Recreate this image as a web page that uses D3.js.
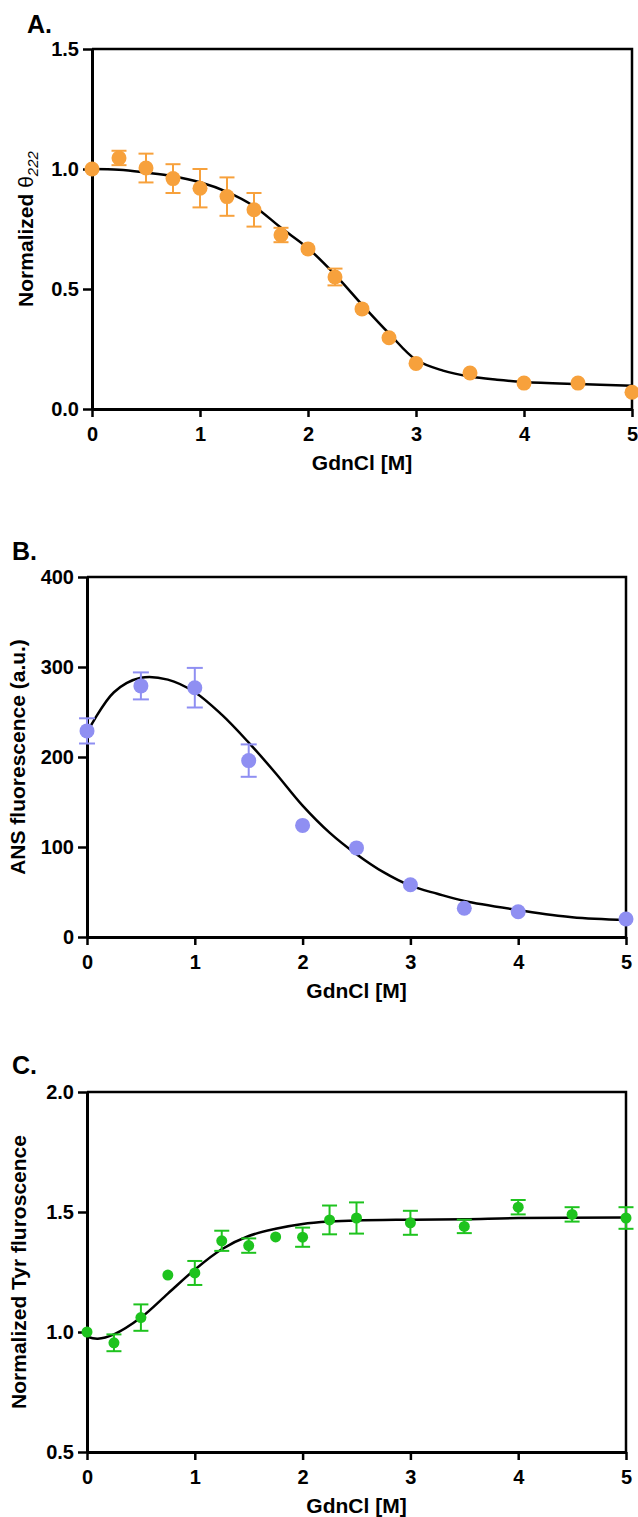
<!DOCTYPE html>
<html>
<head>
<meta charset="utf-8">
<script src="https://cdn.jsdelivr.net/npm/d3@7"></script>
<style>
  body { margin: 0; background: #fff; }
  svg { display: block; font-family: "Liberation Sans", Arial, sans-serif; font-weight: bold; }
</style>
</head>
<body>
<div id="chart"></div>
<script>
const gdnclTicks = [0, 1, 2, 3, 4, 5];

// A. CD signal at 222 nm
const cdX = [0, 0.25, 0.5, 0.75, 1, 1.25, 1.5, 1.75, 2, 2.25, 2.5, 2.75, 3, 3.5, 4, 4.5, 5];
const cdY = [1.0, 1.046, 1.004, 0.96, 0.92, 0.885, 0.83, 0.725, 0.667, 0.55, 0.417, 0.297, 0.19, 0.15, 0.108, 0.108, 0.07];
const cdErr = [0, 0.03, 0.06, 0.06, 0.08, 0.08, 0.07, 0.03, 0, 0.035, 0, 0, 0, 0, 0, 0, 0];
const cdFitX = [0, 0.25, 0.5, 0.75, 1, 1.25, 1.5, 1.75, 2, 2.25, 2.5, 2.75, 3, 3.25, 3.5, 3.75, 4, 4.5, 5];
const cdFitY = [1.0, 0.997, 0.985, 0.97, 0.945, 0.905, 0.845, 0.755, 0.67, 0.56, 0.435, 0.315, 0.205, 0.16, 0.135, 0.122, 0.113, 0.104, 0.097];
const cdTicks = [0, 0.5, 1.0, 1.5];

// B. ANS fluorescence
const ansX = [0, 0.5, 1, 1.5, 2, 2.5, 3, 3.5, 4, 5];
const ansY = [229, 279, 277, 196, 124, 99, 58, 32, 28, 20];
const ansErr = [14, 15, 22, 18, 0, 0, 0, 0, 0, 0];
const ansFitX = [0, 0.25, 0.5, 0.75, 1, 1.25, 1.5, 1.75, 2, 2.25, 2.5, 2.75, 3, 3.25, 3.5, 4, 4.5, 5];
const ansFitY = [227, 272, 288, 286, 272, 247, 216, 182, 146, 116, 92, 72, 57, 48, 40, 30, 22, 19];
const ansTicks = [0, 100, 200, 300, 400];

// C. Tyr fluorescence
const tyrX = [0, 0.25, 0.5, 0.75, 1, 1.25, 1.5, 1.75, 2, 2.25, 2.5, 3, 3.5, 4, 4.5, 5];
const tyrY = [1.0, 0.955, 1.06, 1.237, 1.246, 1.38, 1.36, 1.396, 1.395, 1.467, 1.475, 1.455, 1.44, 1.52, 1.49, 1.475];
const tyrErr = [0, 0.035, 0.055, 0, 0.05, 0.042, 0.03, 0, 0.04, 0.06, 0.065, 0.05, 0.028, 0.03, 0.03, 0.045];
const tyrFitX = [0, 0.1, 0.25, 0.5, 0.75, 1, 1.25, 1.5, 1.75, 2, 2.25, 2.5, 3, 3.5, 4, 5];
const tyrFitY = [0.98, 0.972, 0.99, 1.06, 1.16, 1.26, 1.345, 1.40, 1.43, 1.45, 1.46, 1.465, 1.468, 1.47, 1.475, 1.477];
const tyrTicks = [0.5, 1.0, 1.5, 2.0];

const svg = d3.select("#chart").append("svg")
  .attr("width", 638)
  .attr("height", 1517);

function drawPanel(p) {
  const g = svg.append("g");

  const x = d3.scaleLinear().domain([0, 5]).range([p.left, p.right]);
  const y = d3.scaleLinear().domain(p.yDomain).range([p.bottom, p.top]);

  // top and right frame
  g.append("path")
    .attr("d", `M${p.left},${p.top}H${p.right}V${p.bottom}`)
    .attr("fill", "none")
    .attr("stroke", "#000")
    .attr("stroke-width", 2.5);

  const xAxis = g.append("g")
    .attr("transform", `translate(0,${p.bottom})`)
    .call(d3.axisBottom(x).tickValues(gdnclTicks).tickFormat(d3.format("d"))
      .tickSize(8).tickSizeOuter(0).tickPadding(10));

  const yAxis = g.append("g")
    .attr("transform", `translate(${p.left},0)`)
    .call(d3.axisLeft(y).tickValues(p.yTicks).tickFormat(p.fmt).tickSize(9).tickSizeOuter(0).tickPadding(4));

  [xAxis, yAxis].forEach(a => {
    a.select(".domain").attr("stroke", "#000").attr("stroke-width", 3);
    a.selectAll(".tick line").attr("stroke", "#000").attr("stroke-width", 2.5);
    a.selectAll(".tick text")
      .attr("fill", "#000")
      .style("font-size", "20px")
      .style("font-family", "'Liberation Sans', Arial, sans-serif")
      .style("font-weight", "bold");
  });

  // fit curve
  const fit = p.fitX.map((v, i) => [v, p.fitY[i]]);
  g.append("path")
    .datum(fit)
    .attr("fill", "none")
    .attr("stroke", "#000")
    .attr("stroke-width", 2.5)
    .attr("d", d3.line().x(d => x(d[0])).y(d => y(d[1])).curve(d3.curveCatmullRom));

  const pts = p.xs.map((v, i) => ({ x: v, y: p.ys[i], e: p.errs[i] }));

  // error bars
  const eb = g.selectAll(".err")
    .data(pts.filter(d => d.e > 0))
    .enter()
    .append("g")
    .attr("stroke", p.color)
    .attr("stroke-width", 2);

  eb.append("line")
    .attr("x1", d => x(d.x)).attr("x2", d => x(d.x))
    .attr("y1", d => y(d.y - d.e)).attr("y2", d => y(d.y + d.e));
  eb.append("line")
    .attr("x1", d => x(d.x) - p.cap).attr("x2", d => x(d.x) + p.cap)
    .attr("y1", d => y(d.y + d.e)).attr("y2", d => y(d.y + d.e));
  eb.append("line")
    .attr("x1", d => x(d.x) - p.cap).attr("x2", d => x(d.x) + p.cap)
    .attr("y1", d => y(d.y - d.e)).attr("y2", d => y(d.y - d.e));

  g.selectAll(".pt")
    .data(pts)
    .enter()
    .append("circle")
    .attr("cx", d => x(d.x))
    .attr("cy", d => y(d.y))
    .attr("r", p.r)
    .attr("fill", p.color);

  // panel letter
  g.append("text")
    .attr("x", p.letterX)
    .attr("y", p.letterY)
    .style("font-size", "25px")
    .text(p.letter);

  // x title
  g.append("text")
    .attr("x", (p.left + p.right) / 2)
    .attr("y", p.bottom + 61)
    .attr("text-anchor", "middle")
    .style("font-size", "21px")
    .text("GdnCl [M]");

  // y title
  const yt = g.append("text")
    .attr("transform", `translate(${p.titleX},${(p.top + p.bottom) / 2}) rotate(-90)`)
    .attr("text-anchor", "middle")
    .style("font-size", "21px");
  yt.append("tspan").text(p.yTitle);
  if (p.sub) {
    yt.append("tspan").style("font-weight", "normal").text(" θ");
    yt.append("tspan")
      .attr("dy", 5)
      .style("font-size", "15px")
      .style("font-style", "italic")
      .style("font-weight", "normal")
      .text(p.sub);
  }
}

drawPanel({
  letter: "A.", letterX: 27, letterY: 33,
  left: 92, right: 632, top: 49, bottom: 409,
  yDomain: [0, 1.5], yTicks: cdTicks, fmt: d3.format(".1f"),
  xs: cdX, ys: cdY, errs: cdErr, fitX: cdFitX, fitY: cdFitY,
  color: "#F7A13C", r: 7.5, cap: 7.5,
  yTitle: "Normalized", sub: "222", titleX: 33
});

drawPanel({
  letter: "B.", letterX: 12, letterY: 560,
  left: 87, right: 626, top: 577, bottom: 937,
  yDomain: [0, 400], yTicks: ansTicks, fmt: d3.format("d"),
  xs: ansX, ys: ansY, errs: ansErr, fitX: ansFitX, fitY: ansFitY,
  color: "#8F8FF2", r: 7.5, cap: 8,
  yTitle: "ANS fluorescence (a.u.)", titleX: 25
});

drawPanel({
  letter: "C.", letterX: 12, letterY: 1074,
  left: 87, right: 626, top: 1092, bottom: 1452,
  yDomain: [0.5, 2.0], yTicks: tyrTicks, fmt: d3.format(".1f"),
  xs: tyrX, ys: tyrY, errs: tyrErr, fitX: tyrFitX, fitY: tyrFitY,
  color: "#1EC31E", r: 5.5, cap: 7.5,
  yTitle: "Normalized Tyr fluroscence", titleX: 26
});
</script>
</body>
</html>
